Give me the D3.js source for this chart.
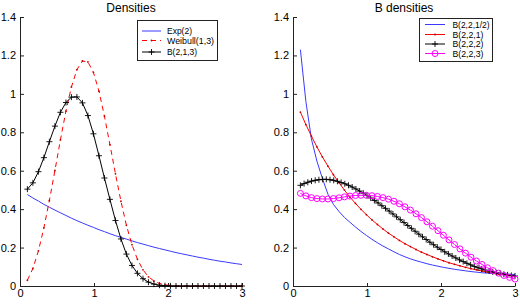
<!DOCTYPE html>
<html>
<head>
<meta charset="utf-8">
<script src="https://cdn.jsdelivr.net/npm/d3@7"></script>
<style>
  html, body { margin: 0; padding: 0; background: #fff; }
  svg { display: block; font-family: "Liberation Sans", Arial, Helvetica, sans-serif; }
</style>
</head>
<body>
<div id="chart"></div>
<script>
// ---- data ----
const xGrid = [0.1, 0.174, 0.249, 0.323, 0.397, 0.472, 0.546, 0.621, 0.695, 0.769,
  0.844, 0.918, 0.992, 1.067, 1.141, 1.215, 1.29, 1.364, 1.438, 1.513,
  1.587, 1.662, 1.736, 1.81, 1.885, 1.959, 2.033, 2.108, 2.182, 2.256,
  2.331, 2.405, 2.479, 2.554, 2.628, 2.703, 2.777, 2.851, 2.926, 3.0];

const xFine = [0.1, 0.15, 0.2, 0.25, 0.3, 0.35, 0.4, 0.45, 0.5, 0.55, 0.6, 0.65, 0.7, 0.75,
  0.8, 0.85, 0.9, 0.95, 1.0, 1.05, 1.1, 1.15, 1.2, 1.25, 1.3, 1.35, 1.4, 1.45, 1.5, 1.55,
  1.6, 1.65, 1.7, 1.75, 1.8, 1.85, 1.9, 1.95, 2.0, 2.05, 2.1, 2.15, 2.2, 2.25, 2.3, 2.35,
  2.4, 2.45, 2.5, 2.55, 2.6, 2.65, 2.7, 2.75, 2.8, 2.85, 2.9, 2.95, 3.0];

// left panel
const exp2 = [0.476, 0.458, 0.442, 0.425, 0.410, 0.395, 0.381, 0.367, 0.353, 0.340,
  0.328, 0.316, 0.305, 0.293, 0.283, 0.272, 0.262, 0.253, 0.244, 0.235,
  0.226, 0.218, 0.210, 0.202, 0.195, 0.188, 0.181, 0.174, 0.168, 0.162,
  0.156, 0.150, 0.145, 0.139, 0.134, 0.129, 0.125, 0.120, 0.116, 0.112];

const weibull13 = [0.030, 0.091, 0.183, 0.303, 0.445, 0.601, 0.760, 0.910, 1.036, 1.126,
  1.171, 1.166, 1.112, 1.014, 0.884, 0.736, 0.584, 0.441, 0.316, 0.215,
  0.139, 0.084, 0.048, 0.026, 0.013, 0.006, 0.003, 0.001, 0, 0,
  0, 0, 0, 0, 0, 0, 0, 0, 0, 0];

const b213 = [0.504, 0.537, 0.595, 0.668, 0.751, 0.832, 0.904, 0.955, 0.983, 0.984,
  0.953, 0.887, 0.792, 0.678, 0.562, 0.451, 0.341, 0.245, 0.166, 0.107,
  0.066, 0.038, 0.020, 0.010, 0.004, 0.0015, 0.0005, 0, 0, 0,
  0, 0, 0, 0, 0, 0, 0, 0, 0, 0];

// right panel
const b22half = [1.23, 0.96, 0.765, 0.65, 0.56, 0.478, 0.425, 0.388, 0.357, 0.332,
  0.307, 0.284, 0.263, 0.243, 0.225, 0.208, 0.193, 0.178, 0.164, 0.152,
  0.141, 0.132, 0.124, 0.116, 0.109, 0.103, 0.097, 0.092, 0.087, 0.083,
  0.079, 0.075, 0.072, 0.069, 0.067, 0.065, 0.063, 0.062, 0.061, 0.060];

const b221 = [0.905, 0.840, 0.780, 0.724, 0.672, 0.624, 0.579, 0.538, 0.499, 0.463,
  0.430, 0.399, 0.371, 0.344, 0.320, 0.297, 0.275, 0.256, 0.237, 0.220,
  0.205, 0.190, 0.176, 0.164, 0.152, 0.141, 0.131, 0.121, 0.113, 0.105,
  0.097, 0.090, 0.084, 0.078, 0.072, 0.067, 0.062, 0.058, 0.054, 0.050];

const b222 = [0.524, 0.533, 0.540, 0.546, 0.550, 0.553, 0.555, 0.555, 0.553, 0.550,
  0.545, 0.539, 0.532, 0.524, 0.515, 0.505, 0.494, 0.483, 0.471, 0.458,
  0.445, 0.432, 0.418, 0.404, 0.390, 0.375, 0.360, 0.345, 0.330, 0.315,
  0.300, 0.285, 0.270, 0.256, 0.242, 0.228, 0.215, 0.202, 0.190, 0.178,
  0.167, 0.156, 0.146, 0.136, 0.127, 0.118, 0.110, 0.102, 0.095, 0.089,
  0.083, 0.078, 0.073, 0.069, 0.065, 0.061, 0.058, 0.055, 0.052];

const b223 = [0.482, 0.469, 0.460, 0.455, 0.453, 0.453, 0.455, 0.459, 0.464, 0.468,
  0.471, 0.472, 0.472, 0.470, 0.466, 0.460, 0.452, 0.441, 0.428, 0.412,
  0.395, 0.376, 0.356, 0.334, 0.311, 0.288, 0.264, 0.240, 0.216, 0.193,
  0.171, 0.150, 0.130, 0.112, 0.095, 0.080, 0.067, 0.055, 0.045, 0.036];

const xTicks = [0, 1, 2, 3];
const xTickLabels = ['0', '1', '2', '3'];
const yTicks = [0, 0.2, 0.4, 0.6, 0.8, 1, 1.2, 1.4];
const yTickLabels = ['0', '0.2', '0.4', '0.6', '0.8', '1', '1.2', '1.4'];

// ---- layout ----
const W = 520, H = 304;
const svg = d3.select('#chart').append('svg').attr('width', W).attr('height', H);

const y = d3.scaleLinear().domain([0, 1.4]).range([286, 17]);

// legend text widths are squeezed to match the narrow font of the original
const panels = [
  {
    title: 'Densities',
    x: d3.scaleLinear().domain([0, 3]).range([20, 242]),
    legend: { x: 137.5, y: 20.5, w: 80, h: 40, lx0: 142, lx1: 161, tx: 167, rows: [31, 40.5, 52], tw: [25, 47, 30] },
    series: [
      { name: 'Exp(2)', xs: xGrid, ys: exp2, color: '#3a3aff', width: 1, dash: null, marker: null },
      { name: 'Weibull(1,3)', xs: xGrid, ys: weibull13, color: '#ff0000', width: 1, dash: '5,4', marker: 'dot' },
      { name: 'B(2,1,3)', xs: xGrid, ys: b213, color: '#000', width: 1, dash: null, marker: 'plus' },
    ],
  },
  {
    title: 'B densities',
    x: d3.scaleLinear().domain([0, 3]).range([293, 515]),
    legend: { x: 419.5, y: 18.5, w: 73, h: 43, lx0: 425, lx1: 445, tx: 452.5, rows: [24.5, 34.5, 44, 53.5], tw: [37, 31, 31, 31] },
    series: [
      { name: 'B(2,2,1/2)', xs: xGrid, ys: b22half, color: '#3a3aff', width: 1, dash: null, marker: null },
      { name: 'B(2,2,1)', xs: xGrid, ys: b221, color: '#ff0000', width: 1, dash: null, marker: 'dot' },
      { name: 'B(2,2,2)', xs: xFine, ys: b222, color: '#000', width: 1, dash: null, marker: 'plus' },
      { name: 'B(2,2,3)', xs: xGrid, ys: b223, color: '#ff00ff', width: 1, dash: null, marker: 'circle' },
    ],
  },
];

function drawMarker(g, type, color) {
  if (type === 'dot') {
    g.append('circle').attr('r', 0.9).attr('fill', '#c00000');
  } else if (type === 'plus') {
    g.append('path').attr('d', 'M-3,0H3M0,-3V3').attr('stroke', color).attr('stroke-width', 0.9);
  } else if (type === 'circle') {
    g.append('circle').attr('r', 3).attr('fill', 'none').attr('stroke', color).attr('stroke-width', 1);
  }
}

panels.forEach(p => {
  const g = svg.append('g');
  const x = p.x;

  // axes, ticks point inward
  g.append('g')
    .attr('transform', `translate(0,${y(0)})`)
    .call(d3.axisBottom(x).tickValues(xTicks).tickFormat((d, i) => xTickLabels[i])
      .tickSizeInner(-3).tickSizeOuter(0).tickPadding(3))
    .call(a => a.selectAll('text').style('font-size', '11px').attr('fill', '#000'));

  g.append('g')
    .attr('transform', `translate(${x(0)},0)`)
    .call(d3.axisLeft(y).tickValues(yTicks).tickFormat((d, i) => yTickLabels[i])
      .tickSizeInner(-4).tickSizeOuter(0).tickPadding(4))
    .call(a => a.selectAll('text').style('font-size', '11px').attr('fill', '#000'));

  g.selectAll('.domain, .tick line').attr('stroke', '#222');

  g.append('text')
    .attr('x', (x.range()[0] + x.range()[1]) / 2).attr('y', 12)
    .attr('text-anchor', 'middle').style('font-size', '12px')
    .text(p.title);

  const line = d3.line().x(d => x(d[0])).y(d => y(d[1]));

  p.series.forEach(s => {
    const pts = s.xs.map((v, i) => [v, s.ys[i]]);
    g.append('path')
      .attr('d', line(pts))
      .attr('fill', 'none')
      .attr('stroke', s.color)
      .attr('stroke-width', s.width)
      .attr('stroke-dasharray', s.dash);
    if (s.marker) {
      g.append('g').selectAll('g').data(pts).join('g')
        .attr('transform', d => `translate(${x(d[0])},${y(d[1])})`)
        .each(function () { drawMarker(d3.select(this), s.marker, s.color); });
    }
  });

  // legend
  const L = p.legend;
  const lg = g.append('g');
  lg.append('rect').attr('x', L.x).attr('y', L.y).attr('width', L.w).attr('height', L.h)
    .attr('fill', '#fff').attr('stroke', '#222').attr('stroke-width', 1);
  p.series.forEach((s, i) => {
    const ry = L.rows[i];
    lg.append('line').attr('x1', L.lx0).attr('x2', L.lx1).attr('y1', ry).attr('y2', ry)
      .attr('stroke', s.color).attr('stroke-width', s.width).attr('stroke-dasharray', s.dash);
    if (s.marker) {
      drawMarker(lg.append('g').attr('transform', `translate(${(L.lx0 + L.lx1) / 2},${ry})`), s.marker, s.color);
    }
    lg.append('text').attr('x', L.tx).attr('y', ry + 3.4)
      .attr('textLength', L.tw[i]).attr('lengthAdjust', 'spacingAndGlyphs')
      .style('font-size', '9.5px').text(s.name);
  });
});
</script>
</body>
</html>
